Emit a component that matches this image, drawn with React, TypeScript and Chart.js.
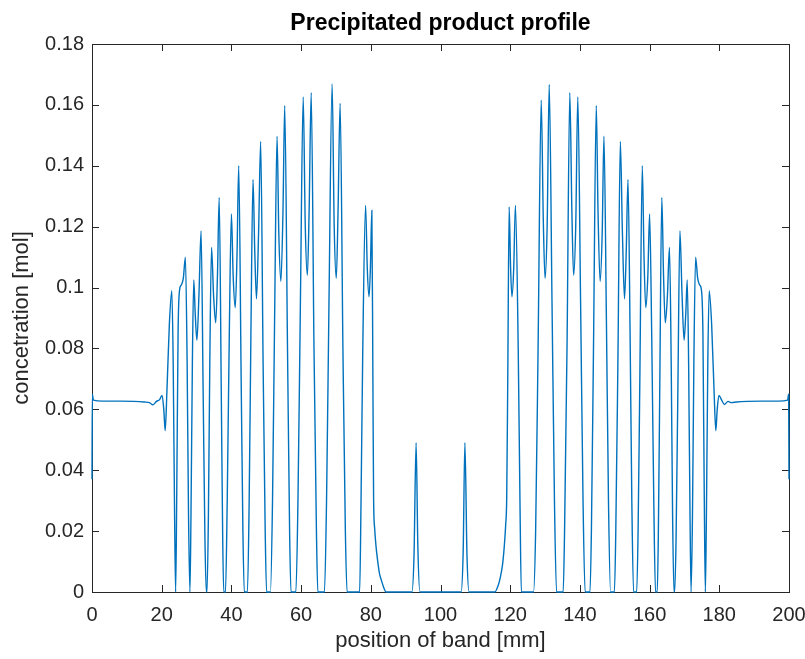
import React, { useEffect, useRef } from 'react';
import { Chart, registerables } from 'chart.js';

Chart.register(...registerables);

// [position (mm), concentration (mol)]
const plateauLeft: [number, number][] = [
  [0, 0.037], [0.1, 0.065], [0.4, 0.063], [3, 0.0627], [8, 0.0627], [12, 0.0626],
  [15, 0.0624], [16.5, 0.0622], [17.5, 0.0615], [18.5, 0.0626], [19.4, 0.0632],
  [20.1, 0.0646], [20.6, 0.06], [21.0, 0.053],
];

const bandsLeft: [number, number][] = [
  [21.5, 0.066], [22.2, 0.088], [22.9, 0.099], [23.3, 0.075], [23.7, 0.025], [24.0, 0.0],
  [24.3, 0.03], [24.7, 0.085], [25.1, 0.099], [25.6, 0.1008], [26.2, 0.103], [26.8, 0.11],
  [27.3, 0.075], [27.7, 0.025], [28.1, 0.0],
  [28.4, 0.025], [28.8, 0.075], [29.2, 0.1025], [29.6, 0.092], [30.1, 0.0827], [30.7, 0.098],
  [31.3, 0.1186], [31.9, 0.065], [32.4, 0.018], [32.8, 0.0], [33.0, 0.0],
  [33.4, 0.025], [33.8, 0.075], [34.3, 0.1132], [34.9, 0.097], [35.5, 0.0884], [36.0, 0.104],
  [36.5, 0.1296], [37.1, 0.065], [37.5, 0.018], [37.8, 0.0], [38.3, 0.0],
  [38.8, 0.03], [39.4, 0.085], [40.0, 0.1242], [40.5, 0.104], [41.1, 0.0934], [41.6, 0.11],
  [42.1, 0.14], [42.8, 0.07], [43.3, 0.02], [43.7, 0.0], [44.6, 0.0],
  [45.1, 0.03], [45.6, 0.085], [46.2, 0.1355], [46.7, 0.112], [47.2, 0.0963], [47.8, 0.118],
  [48.4, 0.148], [49.1, 0.075], [49.7, 0.02], [50.1, 0.0], [51.2, 0.0],
  [51.8, 0.03], [52.4, 0.09], [53.1, 0.1497], [53.6, 0.118], [54.2, 0.102], [54.8, 0.125],
  [55.3, 0.1598], [56.1, 0.08], [56.7, 0.02], [57.1, 0.0], [58.5, 0.0],
  [59.1, 0.03], [59.8, 0.095], [60.6, 0.1626], [61.2, 0.12], [61.8, 0.104], [62.3, 0.125],
  [62.9, 0.164], [63.7, 0.08], [64.4, 0.02], [64.8, 0.0], [66.7, 0.0],
  [67.3, 0.03], [68.0, 0.095], [68.9, 0.1669], [69.5, 0.12], [70.1, 0.103], [70.6, 0.125],
  [71.2, 0.1605], [72.0, 0.08], [72.7, 0.02], [73.2, 0.0], [76.8, 0.0],
  [77.2, 0.03], [77.7, 0.08], [78.5, 0.127], [79.0, 0.106], [79.5, 0.097], [79.9, 0.107],
  [80.3, 0.1253], [80.6, 0.07], [80.8, 0.031], [81.1, 0.021], [81.5, 0.015], [82.0, 0.01],
  [82.5, 0.006], [83.0, 0.004], [83.7, 0.0015], [84.4, 0.0],
];

const centerSpikes: [number, number][] = [
  [91.8, 0.0], [92.4, 0.012], [93.0, 0.049], [93.5, 0.015], [94.1, 0.0],
  [105.9, 0.0], [106.5, 0.013], [107.0, 0.049], [107.6, 0.012], [108.2, 0.0],
];

const bandsRight: [number, number][] = [
  [115.6, 0.0], [116.5, 0.002], [117.2, 0.005], [117.8, 0.009], [118.3, 0.015], [118.7, 0.022],
  [119.0, 0.031], [119.3, 0.07], [119.7, 0.1265], [120.1, 0.107], [120.5, 0.097], [121.0, 0.106],
  [121.5, 0.127], [122.3, 0.08], [122.8, 0.03], [123.2, 0.0],
  [126.7, 0.0], [127.3, 0.02], [128.0, 0.08], [128.9, 0.1615], [129.5, 0.122], [130.0, 0.103],
  [130.6, 0.12], [131.2, 0.1667], [132.0, 0.095], [132.7, 0.03], [133.3, 0.0],
  [135.2, 0.0], [135.6, 0.02], [136.3, 0.08], [137.1, 0.164], [137.7, 0.125], [138.2, 0.104],
  [138.8, 0.12], [139.4, 0.1626], [140.2, 0.095], [140.9, 0.03], [141.5, 0.0],
  [142.9, 0.0], [143.3, 0.02], [143.9, 0.08], [144.7, 0.1598], [145.2, 0.125], [145.8, 0.102],
  [146.4, 0.118], [146.9, 0.1497], [147.6, 0.09], [148.2, 0.03], [148.8, 0.0],
  [149.9, 0.0], [150.3, 0.02], [150.9, 0.075], [151.6, 0.148], [152.2, 0.118], [152.8, 0.0963],
  [153.3, 0.112], [153.8, 0.1355], [154.4, 0.085], [154.9, 0.03], [155.4, 0.0],
  [156.3, 0.0], [156.7, 0.02], [157.2, 0.07], [157.9, 0.14], [158.4, 0.11], [158.9, 0.0934],
  [159.5, 0.104], [160.0, 0.1242], [160.6, 0.085], [161.2, 0.03], [161.7, 0.0],
  [162.2, 0.0], [162.5, 0.018], [162.9, 0.065], [163.5, 0.1296], [164.0, 0.104], [164.5, 0.0884],
  [165.1, 0.097], [165.7, 0.1132], [166.2, 0.075], [166.6, 0.025], [167.0, 0.0],
  [167.2, 0.0], [167.6, 0.018], [168.1, 0.065], [168.7, 0.1186], [169.3, 0.098], [169.9, 0.0827],
  [170.4, 0.092], [170.8, 0.1025], [171.2, 0.075], [171.6, 0.025], [171.9, 0.0],
  [172.3, 0.025], [172.7, 0.075], [173.2, 0.11], [173.8, 0.103], [174.4, 0.1008], [174.9, 0.099],
  [175.3, 0.085], [175.7, 0.03], [176.0, 0.0],
  [176.3, 0.025], [176.7, 0.075], [177.1, 0.099], [177.8, 0.088], [178.5, 0.066], [179.0, 0.053],
];

const plateauRight: [number, number][] = [
  [179.4, 0.06], [179.9, 0.0646], [180.6, 0.0632], [181.5, 0.0616], [182.5, 0.0626],
  [183.5, 0.0622], [185, 0.0624], [188, 0.0626], [192, 0.0627], [197, 0.0627],
  [199.6, 0.063], [199.9, 0.065], [200, 0.037],
];

const xTicks = [0, 20, 40, 60, 80, 100, 120, 140, 160, 180, 200];
const xTickLabels = ['0', '20', '40', '60', '80', '100', '120', '140', '160', '180', '200'];
const yTicks = [0, 0.02, 0.04, 0.06, 0.08, 0.1, 0.12, 0.14, 0.16, 0.18];
const yTickLabels = ['0', '0.02', '0.04', '0.06', '0.08', '0.1', '0.12', '0.14', '0.16', '0.18'];

const TITLE = 'Precipitated product profile';
const FONT = "'Liberation Sans', Arial, Helvetica, sans-serif";
const AXIS_COLOR = '#262626';
const LINE_COLOR = '#0072BD';

const boxPlugin = {
  id: 'matlabBox',
  beforeDatasetsDraw(chart: any) {
    const { ctx, chartArea: a, scales } = chart;
    const len = 7;
    ctx.save();
    ctx.strokeStyle = AXIS_COLOR;
    ctx.lineWidth = 1;
    ctx.strokeRect(Math.round(a.left) + 0.5, Math.round(a.top) + 0.5,
      Math.round(a.right - a.left), Math.round(a.bottom - a.top));
    ctx.beginPath();
    for (const v of xTicks) {
      const px = Math.round(scales.x.getPixelForValue(v)) + 0.5;
      ctx.moveTo(px, a.bottom);
      ctx.lineTo(px, a.bottom - len);
      ctx.moveTo(px, a.top);
      ctx.lineTo(px, a.top + len);
    }
    for (const v of yTicks) {
      const py = Math.round(scales.y.getPixelForValue(v)) + 0.5;
      ctx.moveTo(a.left, py);
      ctx.lineTo(a.left + len, py);
      ctx.moveTo(a.right, py);
      ctx.lineTo(a.right - len, py);
    }
    ctx.stroke();
    ctx.restore();
  },
  afterDraw(chart: any) {
    const { ctx, chartArea: a } = chart;
    ctx.save();
    ctx.fillStyle = '#000000';
    ctx.font = `bold 23px ${FONT}`;
    ctx.textAlign = 'center';
    ctx.textBaseline = 'middle';
    ctx.fillText(TITLE, (a.left + a.right) / 2, a.top - 20);
    ctx.restore();
  },
};

export default function App() {
  const ref = useRef<HTMLCanvasElement | null>(null);

  useEffect(() => {
    if (!ref.current) return;
    const points = [...plateauLeft, ...bandsLeft, ...centerSpikes, ...bandsRight, ...plateauRight]
      .map(([x, y]) => ({ x, y }));
    const chart = new Chart(ref.current, {
      type: 'line',
      data: {
        datasets: [
          {
            data: points,
            borderColor: LINE_COLOR,
            borderWidth: 1.4,
            pointRadius: 0,
            fill: false,
            cubicInterpolationMode: 'monotone',
            clip: false as any,
          },
        ],
      },
      plugins: [boxPlugin],
      options: {
        animation: false,
        responsive: false,
        layout: { padding: { left: 0, right: 16, top: 44, bottom: 0 } },
        plugins: {
          legend: { display: false },
          tooltip: { enabled: false },
          title: { display: false },
        },
        scales: {
          x: {
            type: 'linear',
            min: 0,
            max: 200,
            afterBuildTicks: (s: any) => { s.ticks = xTicks.map((v) => ({ value: v })); },
            afterFit: (s: any) => { s.height = 67; s.paddingLeft = 0; s.paddingRight = 0; },
            grid: { display: false, drawTicks: false },
            border: { display: false },
            ticks: {
              padding: 11,
              color: AXIS_COLOR,
              font: { family: FONT, size: 20 },
              maxRotation: 0,
              autoSkip: false,
              callback: (_v: any, i: number) => xTickLabels[i],
            },
            title: {
              display: true,
              text: 'position of band [mm]',
              color: AXIS_COLOR,
              font: { family: FONT, size: 22 },
              padding: { top: 0, bottom: 5 },
            },
          },
          y: {
            type: 'linear',
            min: 0,
            max: 0.18,
            afterBuildTicks: (s: any) => { s.ticks = yTicks.map((v) => ({ value: v })); },
            afterFit: (s: any) => { s.width = 92; s.paddingTop = 0; s.paddingBottom = 0; },
            grid: { display: false, drawTicks: false },
            border: { display: false },
            ticks: {
              padding: 8,
              color: AXIS_COLOR,
              font: { family: FONT, size: 20 },
              autoSkip: false,
              callback: (_v: any, i: number) => yTickLabels[i],
            },
            title: {
              display: true,
              text: 'concetration [mol]',
              color: AXIS_COLOR,
              font: { family: FONT, size: 22 },
              padding: { top: 9, bottom: 0 },
            },
          },
        },
      },
    });
    return () => chart.destroy();
  }, []);

  return (
    <div style={{ position: 'absolute', left: 0, top: 0, width: 805, height: 659, background: '#fff' }}>
      <canvas ref={ref} width={805} height={659} style={{ display: 'block' }} />
    </div>
  );
}
